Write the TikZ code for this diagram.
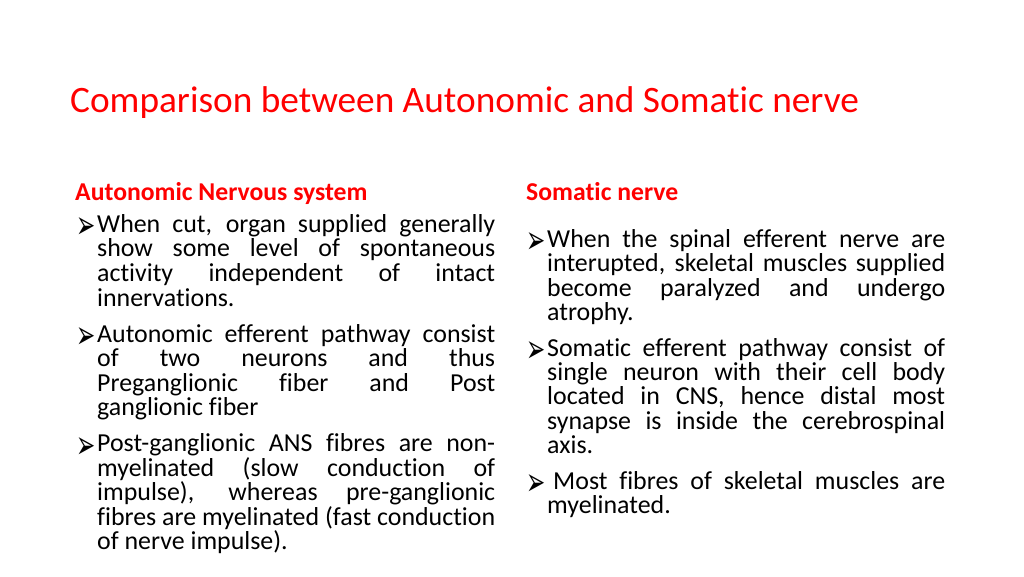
\documentclass[tikz,border=0pt]{standalone}
\usepackage{fontspec}
\usepackage{graphicx}
\setmainfont{Carlito}[RawFeature={-liga,-clig}]
\newfontfamily\symfont{DejaVu Sans}
\definecolor{slidered}{RGB}{255,0,0}
\definecolor{bodyblack}{RGB}{0,0,0}
\begin{document}
\begin{tikzpicture}[x=1pt,y=-1pt,
  titletext/.style={anchor=base west,inner sep=0pt,font=\fontsize{37.3}{40}\selectfont,text=slidered},
  headtext/.style={anchor=base west,inner sep=0pt,font=\fontsize{25.7}{28}\selectfont\bfseries,text=slidered},
  bodytext/.style={anchor=base west,inner sep=0pt,font=\fontsize{25.9}{28}\selectfont,text=bodyblack},
  bullettext/.style={anchor=base west,inner sep=0pt,font=\symfont\fontsize{28}{30}\selectfont,text=bodyblack}]
\path[use as bounding box,fill=white] (0,0) rectangle (1024,576);
\newcommand\jw[1]{\makebox[398pt][s]{#1}}
\newcommand\jv[1]{\makebox[392pt][s]{#1}}
\newcommand\arrowbul{\raisebox{-6.5pt}{\scalebox{0.82}[1.4]{➢}}}
% title
\node[titletext] (title) at (70,112) {Comparison between Autonomic and Somatic nerve};
% headings
\node[headtext] (hl) at (75,200) {Autonomic Nervous system};
\node[headtext] (hr) at (526,200) {Somatic nerve};
% left column
\node[bullettext] (bl1) at (76,232) {\arrowbul};
\node[bodytext] (l11) at (97,232) {\jw{When cut, organ supplied generally}};
\node[bodytext] (l12) at (97,256.7) {\jw{show some level of spontaneous}};
\node[bodytext] (l13) at (97,281.3) {\jw{activity independent of intact}};
\node[bodytext] (l14) at (97,306) {innervations.};
\node[bullettext] (bl2) at (76,342) {\arrowbul};
\node[bodytext] (l21) at (97,342) {\jw{Autonomic efferent pathway consist}};
\node[bodytext] (l22) at (97,366.5) {\jw{of two neurons and thus}};
\node[bodytext] (l23) at (97,391) {\jw{Preganglionic fiber and Post}};
\node[bodytext] (l24) at (97,415.5) {ganglionic fiber};
\node[bullettext] (bl3) at (76,451.5) {\arrowbul};
\node[bodytext] (l31) at (97,451.5) {\jw{Post-ganglionic ANS fibres are non-}};
\node[bodytext] (l32) at (97,476) {\jw{myelinated (slow conduction of}};
\node[bodytext] (l33) at (97,500.5) {\jw{impulse), whereas pre-ganglionic}};
\node[bodytext] (l34) at (97,525) {\jw{fibres are myelinated (fast conduction}};
\node[bodytext] (l35) at (97,549.5) {of nerve impulse).};
% right column
\node[bullettext] (br1) at (526,247) {\arrowbul};
\node[bodytext] (r11) at (547,247) {\jw{When the spinal efferent nerve are}};
\node[bodytext] (r12) at (547,271.5) {\jw{interupted, skeletal muscles supplied}};
\node[bodytext] (r13) at (547,296) {\jw{become paralyzed and undergo}};
\node[bodytext] (r14) at (547,320.5) {atrophy.};
\node[bullettext] (br2) at (526,356) {\arrowbul};
\node[bodytext] (r21) at (547,356) {\jw{Somatic efferent pathway consist of}};
\node[bodytext] (r22) at (547,380.4) {\jw{single neuron with their cell body}};
\node[bodytext] (r23) at (547,404.8) {\jw{located in CNS, hence distal most}};
\node[bodytext] (r24) at (547,429.2) {\jw{synapse is inside the cerebrospinal}};
\node[bodytext] (r25) at (547,453.6) {axis.};
\node[bullettext] (br3) at (526,489) {\arrowbul};
\node[bodytext] (r31) at (553,489) {\jv{Most fibres of skeletal muscles are}};
\node[bodytext] (r32) at (547,513.5) {myelinated.};
\end{tikzpicture}
\end{document}
